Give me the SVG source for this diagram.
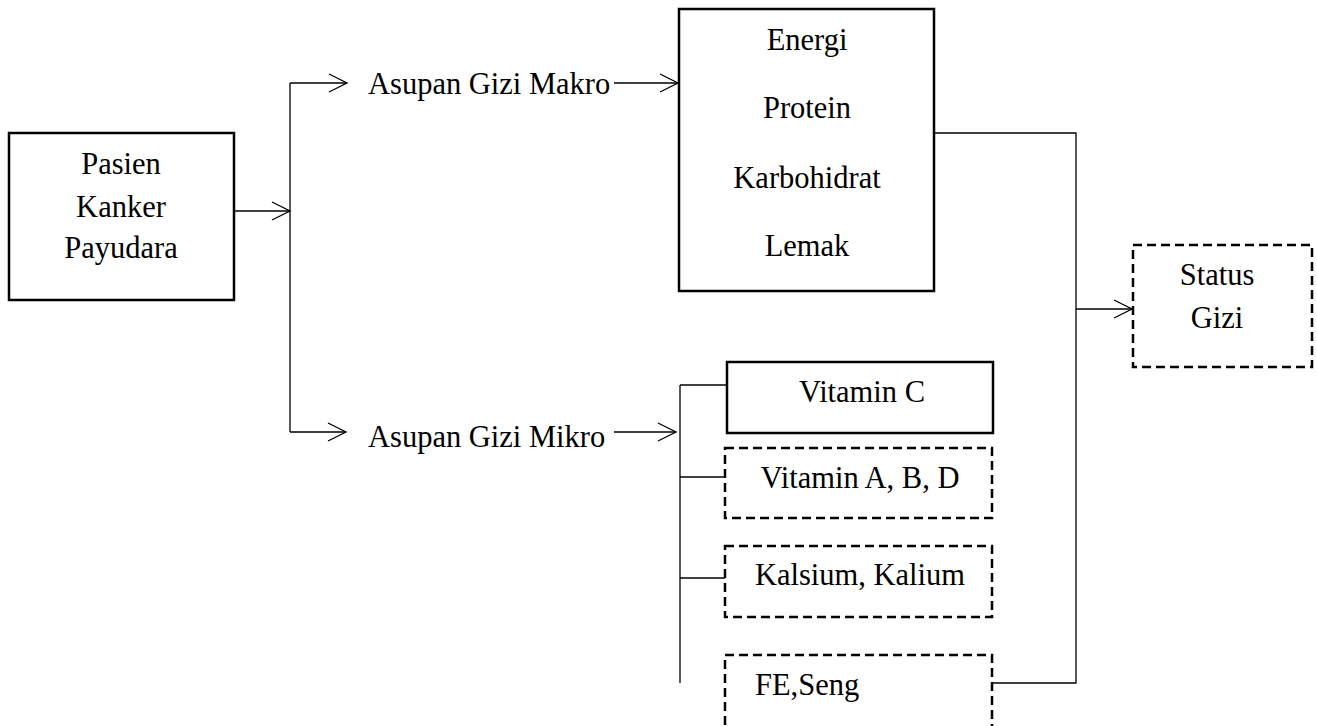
<svg xmlns="http://www.w3.org/2000/svg" width="1317" height="726" viewBox="0 0 1317 726">
<defs>
<marker id="arr" markerUnits="userSpaceOnUse" markerWidth="22" markerHeight="22" refX="19" refY="10" orient="auto">
<path d="M1,1 L19,10 L1,19" fill="none" stroke="#000" stroke-width="1.3"/>
</marker>
<style>
.box{fill:#fff;stroke:#000;stroke-width:2.5}
.dash{fill:#fff;stroke:#000;stroke-width:2.5;stroke-dasharray:9 5}
.ln{fill:none;stroke:#000;stroke-width:1.3}
text{font-family:"Liberation Serif","Times New Roman",serif;font-size:30.5px;fill:#000}
.c{text-anchor:middle}
</style>
</defs>
<rect width="1317" height="726" fill="#fff"/>
<g id="connectors">
<line class="ln" x1="234" y1="211" x2="290" y2="211" marker-end="url(#arr)"/>
<line class="ln" x1="290" y1="83" x2="290" y2="432"/>
<line class="ln" x1="290" y1="83" x2="347" y2="83" marker-end="url(#arr)"/>
<line class="ln" x1="290" y1="432" x2="346" y2="432" marker-end="url(#arr)"/>
<line class="ln" x1="614" y1="83" x2="678" y2="83" marker-end="url(#arr)"/>
<line class="ln" x1="614" y1="432" x2="676" y2="432" marker-end="url(#arr)"/>
<line class="ln" x1="680" y1="385" x2="680" y2="683"/>
<line class="ln" x1="680" y1="385" x2="727" y2="385"/>
<line class="ln" x1="680" y1="477" x2="725" y2="477"/>
<line class="ln" x1="680" y1="578" x2="725" y2="578"/>
<polyline class="ln" points="934,133 1076,133 1076,683 993,683"/>
<line class="ln" x1="1076" y1="309" x2="1132" y2="309" marker-end="url(#arr)"/>
</g>
<g id="pasien">
<rect class="box" x="9" y="133" width="225" height="167"/>
<text class="c" x="121" y="174">Pasien</text>
<text class="c" x="121" y="217">Kanker</text>
<text class="c" x="121" y="258">Payudara</text>
</g>
<g id="makro-label"><text x="368" y="94">Asupan Gizi Makro</text></g>
<g id="mikro-label"><text x="368" y="447">Asupan Gizi Mikro</text></g>
<g id="makro">
<rect class="box" x="679" y="9" width="255" height="282"/>
<text class="c" x="807" y="50">Energi</text>
<text class="c" x="807" y="118">Protein</text>
<text class="c" x="807" y="188">Karbohidrat</text>
<text class="c" x="807" y="256">Lemak</text>
</g>
<g id="status">
<rect class="dash" x="1133" y="245" width="179" height="122"/>
<text class="c" x="1217" y="285">Status</text>
<text class="c" x="1217" y="328">Gizi</text>
</g>
<g id="vitc">
<rect class="box" x="727" y="362" width="266" height="71"/>
<text class="c" x="862" y="402">Vitamin C</text>
</g>
<g id="vitabd">
<rect class="dash" x="725" y="448" width="267" height="70"/>
<text class="c" x="860" y="488">Vitamin A, B, D</text>
</g>
<g id="kalsium">
<rect class="dash" x="725" y="546" width="267" height="71"/>
<text class="c" x="860" y="585">Kalsium, Kalium</text>
</g>
<g id="fe">
<rect class="dash" x="725" y="655" width="267" height="90"/>
<text x="755" y="695">FE,Seng</text>
</g>
</svg>
